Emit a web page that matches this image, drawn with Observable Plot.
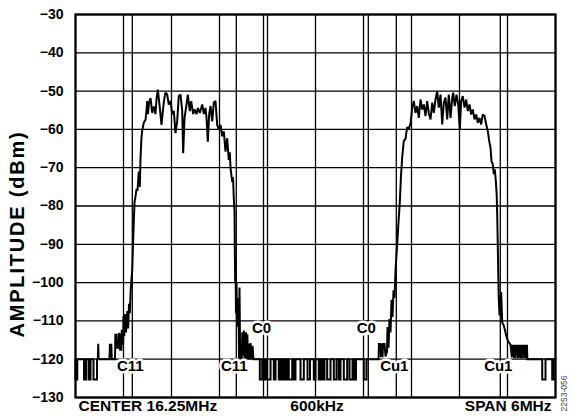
<!DOCTYPE html>
<html>
<head>
<meta charset="utf-8">
<script src="https://cdn.jsdelivr.net/npm/d3@7"></script>
<script src="https://cdn.jsdelivr.net/npm/@observablehq/plot@0.6"></script>
<style>
  html, body { margin: 0; padding: 0; background: #fff; }
</style>
</head>
<body>
<div id="chart"></div>
<script>
// ---- axis / grid values ----
const gridMHz = [13.25, 13.85, 14.45, 15.05, 15.65, 16.25, 16.85, 17.45, 18.05, 18.65, 19.25];
const gridDBm = [-30, -40, -50, -60, -70, -80, -90, -100, -110, -120, -130];

// ---- channel markers ----
const markerMHz = [13.96, 15.26, 15.60, 16.91, 17.26, 18.56];
const markerLabels = ["C11", "C11", "C0", "C0", "Cu1", "Cu1"];

// ---- bottom annotations ----
const footLeft = "CENTER 16.25MHz";
const footMid = "600kHz";
const footRight = "SPAN 6MHz";
const yTitle = "AMPLITUDE (dBm)";
const figId = "2253-056";

// ---- trace: noise floor level and dips ----
const floorLevel = -120;
const dipLevel = -125.3;
const noiseLeftDips = [[13.25, 13.272], [13.356, 13.381], [13.413, 13.438], [13.475, 13.519]];
const noiseMidDips = [
  [15.554, 15.584], [15.604, 15.625], [15.646, 15.688], [15.729, 15.75], [15.791, 15.8125],
  [15.834, 15.854], [15.875, 15.896], [15.916, 15.959], [15.979, 16.0], [16.0625, 16.104],
  [16.15, 16.181], [16.229, 16.25], [16.291, 16.3125], [16.3375, 16.3625], [16.396, 16.4375],
  [16.479, 16.5125], [16.541, 16.5625], [16.604, 16.646], [16.675, 16.7125], [16.731, 16.756],
  [16.854, 16.8875]
];
const noiseRightDips = [[19.084, 19.125], [19.209, 19.229]];

// ---- trace: lower adjacent channel (C11) [MHz, dBm] ----
const channelC11 = [
  [13.529, -120], [13.534, -116], [13.539, -120], [13.675, -120], [13.68, -116.2], [13.698, -116.2],
  [13.703, -120], [13.744, -120], [13.748, -113.6], [13.76, -113.6], [13.765, -117], [13.785, -117],
  [13.79, -113.3], [13.803, -113.5], [13.808, -117.5], [13.823, -117.5], [13.828, -112.3], [13.838, -116],
  [13.845, -116], [13.85, -108.8], [13.86, -114], [13.87, -108.2], [13.881, -113], [13.898, -107.4],
  [13.908, -112], [13.919, -105.5], [13.929, -108], [13.94, -102], [13.95, -99], [13.96, -96.5],
  [13.969, -90], [13.979, -84], [13.988, -79], [14.0, -77.5], [14.013, -75.5], [14.025, -76],
  [14.041, -71], [14.054, -75], [14.063, -67.5], [14.075, -62], [14.084, -60.3], [14.104, -58.2],
  [14.125, -57.5], [14.138, -55], [14.146, -52.6], [14.156, -56], [14.169, -53], [14.188, -51.8],
  [14.209, -55.7], [14.229, -54], [14.25, -56], [14.263, -52], [14.279, -49.6], [14.304, -54.4],
  [14.325, -58.8], [14.346, -54.4], [14.36, -52], [14.375, -50.4], [14.396, -50.9], [14.416, -53.5],
  [14.438, -52.6], [14.459, -56], [14.479, -55.2], [14.5, -61], [14.521, -57.9], [14.541, -51.3],
  [14.563, -50.9], [14.584, -55.2], [14.596, -66.2], [14.613, -57], [14.638, -53.5], [14.654, -50.9],
  [14.679, -55.2], [14.696, -52.6], [14.721, -56], [14.738, -54.8], [14.763, -56], [14.779, -54.4],
  [14.804, -55.7], [14.834, -53.5], [14.854, -56], [14.875, -54.4], [14.888, -57], [14.904, -63.2],
  [14.921, -56], [14.938, -53.9], [14.959, -57.9], [14.979, -53], [15.0, -52.6], [15.021, -58.8],
  [15.041, -60.1], [15.063, -58.8], [15.084, -61.8], [15.104, -60.5], [15.125, -65.8], [15.146, -62.3],
  [15.166, -68], [15.179, -66], [15.188, -70.2], [15.209, -73.7], [15.219, -72.5], [15.229, -78.1],
  [15.238, -81.6], [15.241, -90], [15.246, -100], [15.251, -95], [15.256, -108], [15.263, -100],
  [15.269, -111], [15.275, -104], [15.281, -111.5], [15.288, -107], [15.294, -119.8], [15.3, -101.3],
  [15.308, -119.5], [15.329, -120], [15.335, -113], [15.345, -119], [15.354, -112.5], [15.363, -120],
  [15.375, -120], [15.381, -113], [15.39, -120], [15.398, -113.5], [15.406, -120], [15.416, -116],
  [15.425, -120], [15.438, -115.8], [15.45, -120], [15.463, -116.5], [15.475, -120]
];

// ---- trace: upper adjacent channel (Cu1) [MHz, dBm] ----
const channelCu1 = [
  [17.038, -120], [17.043, -116], [17.063, -116], [17.068, -119.5], [17.075, -116], [17.088, -119.5],
  [17.094, -116], [17.113, -116], [17.125, -119.3], [17.144, -118], [17.15, -111.6], [17.163, -117],
  [17.175, -109.5], [17.188, -113], [17.2, -104.5], [17.213, -109], [17.225, -102], [17.238, -104],
  [17.25, -96.8], [17.271, -90], [17.288, -84], [17.304, -79], [17.319, -72], [17.334, -67.2],
  [17.354, -63], [17.375, -62.5], [17.396, -59.4], [17.416, -59.8], [17.438, -58.5], [17.459, -54.3],
  [17.479, -52.6], [17.5, -55.7], [17.521, -53.9], [17.541, -57], [17.563, -52.2], [17.584, -54.8],
  [17.604, -53.5], [17.625, -56.5], [17.646, -52.6], [17.666, -55.7], [17.688, -57.4], [17.709, -53],
  [17.729, -55.7], [17.75, -52.2], [17.771, -50], [17.791, -54.3], [17.813, -50.9], [17.834, -58.7],
  [17.854, -53], [17.875, -51.7], [17.896, -57.4], [17.916, -50.9], [17.938, -57], [17.959, -51.7],
  [17.971, -50.4], [17.991, -53.9], [18.013, -50.9], [18.034, -53.5], [18.054, -60], [18.071, -52.6],
  [18.091, -51.3], [18.113, -54.3], [18.134, -52.2], [18.154, -55.2], [18.175, -53.5], [18.196, -56.1],
  [18.216, -54.8], [18.238, -57.4], [18.259, -56.1], [18.279, -58.3], [18.3, -57], [18.321, -58.7],
  [18.341, -56.1], [18.363, -56.5], [18.384, -58.7], [18.404, -60.4], [18.421, -63], [18.438, -64.8],
  [18.45, -68.3], [18.466, -69.1], [18.479, -71.7], [18.491, -70.4], [18.504, -73.5], [18.515, -77],
  [18.521, -82], [18.528, -89.4], [18.534, -97], [18.541, -104.3], [18.55, -108.6], [18.56, -105],
  [18.571, -102.5], [18.584, -110.4], [18.604, -111.2], [18.625, -113], [18.646, -114.7], [18.666, -115.6],
  [18.688, -116.2], [18.704, -119.5], [18.71, -116.5], [18.725, -116.5], [18.73, -119.5], [18.745, -119.5],
  [18.75, -116.5], [18.769, -116.5], [18.774, -119.5], [18.788, -119.5], [18.793, -116.5], [18.81, -116.5],
  [18.815, -119.5], [18.831, -119.5], [18.836, -116.5], [18.854, -116.5], [18.859, -119.5], [18.873, -119.5],
  [18.878, -116.5], [18.893, -116.5], [18.898, -120]
];

// ---- assemble the trace from the arrays above ----
function dipPoints(dips) {
  const out = [];
  for (const [s, e] of dips) {
    out.push([s, floorLevel], [s, dipLevel], [e, dipLevel], [e, floorLevel]);
  }
  return out;
}
const trace = [
  ...dipPoints(noiseLeftDips),
  ...channelC11,
  ...dipPoints(noiseMidDips),
  ...channelCu1,
  ...dipPoints(noiseRightDips),
  [gridMHz[gridMHz.length - 1], floorLevel]
].map(([f, a]) => ({f, a}));

const markers = markerMHz.map((f, i) => ({f, label: markerLabels[i]}));

const font = "'Liberation Sans', Arial, Helvetica, sans-serif";

const chart = Plot.plot({
  width: 571,
  height: 420,
  marginLeft: 75,
  marginRight: 16,
  marginTop: 14,
  marginBottom: 23,
  style: {fontFamily: font, background: "#fff", color: "#000"},
  x: {domain: [gridMHz[0], gridMHz[gridMHz.length - 1]], axis: null},
  y: {domain: [-130, -30], axis: null},
  marks: [
    Plot.ruleX(gridMHz, {stroke: "#000", strokeWidth: 1.3}),
    Plot.ruleY(gridDBm, {stroke: "#000", strokeWidth: 1.3}),
    Plot.ruleX(markers, {x: "f", stroke: "#000", strokeWidth: 1.3}),
    Plot.line(trace, {x: "f", y: "a", stroke: "#000", strokeWidth: 2, strokeLinejoin: "miter", strokeMiterlimit: 2}),
    Plot.frame({stroke: "#000", strokeWidth: 2.2}),
    Plot.axisY(gridDBm, {
      tickSize: 0, tickPadding: 12, fontSize: 14, fontWeight: "bold", label: null,
      tickFormat: d => "\u2212" + Math.abs(d)
    }),
    Plot.text([yTitle], {frameAnchor: "left", textAnchor: "middle", rotate: -90, dx: -58, dy: 28, fontSize: 20, fontWeight: "bold"}),
    Plot.text(markers.filter(d => d.label !== "C0"), {
      x: "f", text: "label", frameAnchor: "bottom", dy: -26.5, dx: -2,
      fontSize: 15, fontWeight: "bold", fill: "#000", stroke: "#fff", strokeWidth: 5
    }),
    Plot.text(markers.filter(d => d.label === "C0"), {
      x: "f", text: "label", frameAnchor: "bottom", dy: -64.5, dx: -2,
      fontSize: 15, fontWeight: "bold", fill: "#000", stroke: "#fff", strokeWidth: 5
    }),
    Plot.text([footLeft], {frameAnchor: "bottom-left", textAnchor: "start", dx: 3, dy: 13.5, fontSize: 15.5, fontWeight: "bold"}),
    Plot.text([footMid], {frameAnchor: "bottom", dx: 1.5, dy: 13.5, fontSize: 15.5, fontWeight: "bold"}),
    Plot.text([footRight], {frameAnchor: "bottom-right", textAnchor: "end", dx: -4, dy: 13.5, fontSize: 15.5, fontWeight: "bold"}),
    Plot.text([figId], {frameAnchor: "bottom-right", textAnchor: "middle", rotate: -90, dx: 11.5, dy: -4, fontSize: 8.5, fill: "#444"})
  ]
});
// slightly wider tracking of the rotated axis title, as in the reference
d3.select(chart).selectAll("text").filter(function () { return this.textContent === yTitle; })
  .style("letter-spacing", "1.8px");
document.getElementById("chart").appendChild(chart);
</script>
</body>
</html>
